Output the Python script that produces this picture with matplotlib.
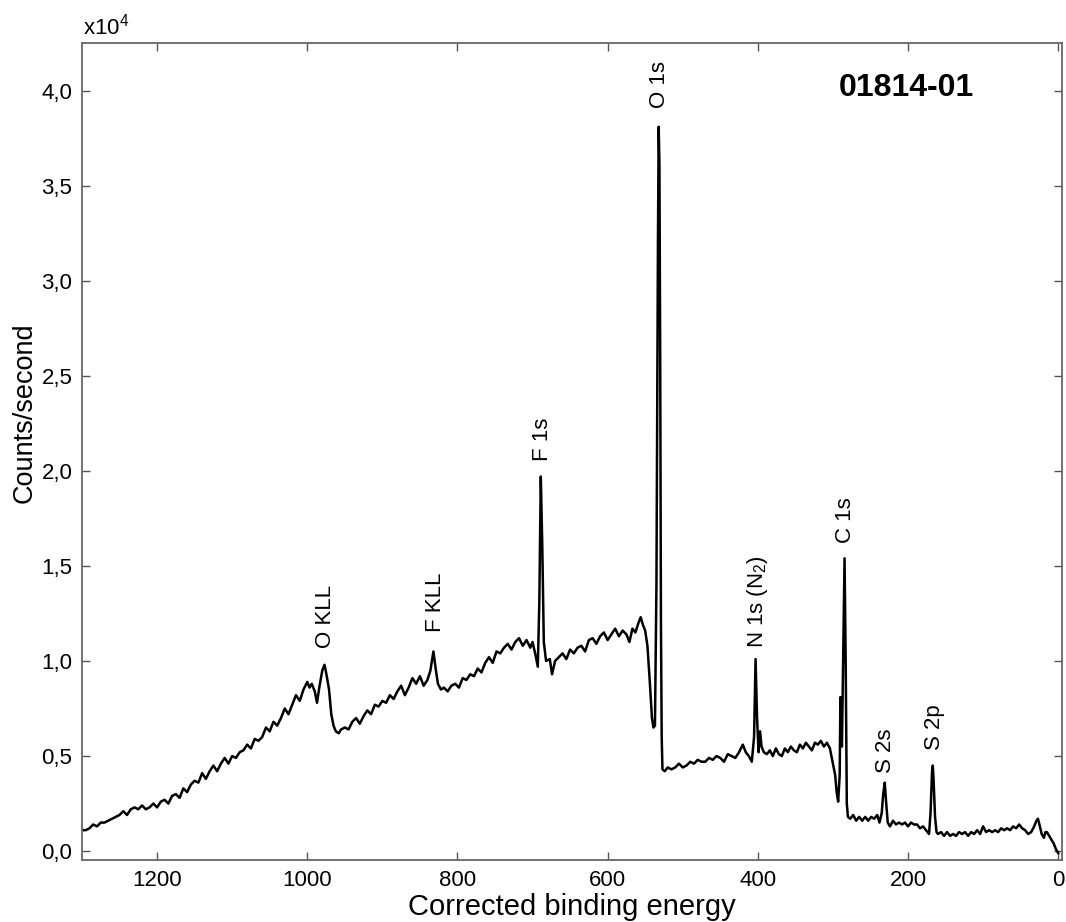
import matplotlib
matplotlib.use("Agg")
import matplotlib.pyplot as plt
from matplotlib.ticker import MultipleLocator, FuncFormatter

plt.rcParams['font.family'] = ['Liberation Sans', 'DejaVu Sans']
plt.rcParams['mathtext.fontset'] = 'custom'
plt.rcParams['mathtext.rm'] = 'Liberation Sans'
plt.rcParams['mathtext.it'] = 'Liberation Sans:italic'

# survey spectrum (counts in units of 1e4)
energy = [1300, 1295, 1290, 1285, 1280, 1275, 1270, 1265, 1260, 1255, 1250, 1245, 1240, 1235,
          1230, 1225, 1220, 1215, 1210, 1205, 1200, 1195, 1190, 1185, 1180, 1175, 1170, 1165,
          1160, 1155, 1150, 1145, 1140, 1135, 1130, 1125, 1120, 1115, 1110, 1105, 1100, 1095,
          1090, 1085, 1080, 1075, 1070, 1065, 1060, 1055, 1050, 1045, 1040, 1035, 1030, 1025,
          1020, 1015, 1010, 1005, 1000, 997, 994, 990, 987, 984, 980, 977, 974, 971, 968, 965,
          962, 958, 955, 950, 945, 940, 935, 930, 925, 920, 915, 910, 905, 900, 895, 890, 885,
          880, 875, 870, 865, 860, 855, 850, 845, 840, 836, 832, 829, 826, 822, 818, 813, 808,
          803, 798, 793, 788, 783, 778, 773, 768, 763, 758, 753, 748, 743, 738, 733, 728, 723,
          718, 713, 708, 703, 700, 696, 693, 691, 689, 687, 685, 682, 677, 674, 670, 665, 660,
          655, 650, 645, 640, 635, 630, 625, 620, 615, 610, 605, 600, 595, 590, 585, 580, 575,
          571, 567, 563, 559, 556, 553, 550, 547, 544, 541, 539, 537, 535, 533, 532, 531, 530,
          529, 528, 527, 524, 520, 515, 510, 505, 500, 495, 490, 485, 480, 475, 470, 465, 460,
          455, 450, 445, 440, 435, 430, 425, 420, 416, 412, 408, 405, 403, 401, 399, 397, 395,
          392, 388, 384, 380, 376, 372, 368, 364, 360, 356, 352, 348, 344, 340, 336, 332, 328,
          324, 320, 316, 312, 308, 304, 300, 297, 295, 293, 291, 290, 289, 288, 286, 284.5, 283,
          281.5, 280, 277, 273, 269, 265, 261, 257, 253, 249, 245, 241, 238, 235, 233, 231, 229,
          227, 224, 220, 216, 212, 208, 204, 200, 196, 192, 188, 184, 180, 176, 172, 170, 168,
          167, 166, 164, 162, 160, 156, 152, 148, 144, 140, 136, 132, 128, 124, 120, 116, 112,
          108, 104, 100, 96, 92, 88, 84, 80, 76, 72, 68, 64, 60, 56, 52, 48, 44, 40, 36, 32, 29,
          27, 25, 22, 19, 17, 15, 12, 9, 6, 3, 0]
counts = [0.11, 0.11, 0.12, 0.14, 0.13, 0.15, 0.15, 0.16, 0.17, 0.18, 0.19, 0.21, 0.19, 0.22,
          0.23, 0.22, 0.24, 0.22, 0.23, 0.25, 0.23, 0.26, 0.27, 0.25, 0.29, 0.30, 0.28, 0.33,
          0.31, 0.35, 0.37, 0.36, 0.41, 0.38, 0.42, 0.45, 0.42, 0.46, 0.49, 0.46, 0.50, 0.49,
          0.52, 0.53, 0.56, 0.54, 0.59, 0.58, 0.60, 0.65, 0.63, 0.68, 0.66, 0.70, 0.75, 0.72,
          0.77, 0.82, 0.79, 0.85, 0.89, 0.86, 0.88, 0.84, 0.78, 0.86, 0.95, 0.98, 0.92, 0.85,
          0.72, 0.66, 0.63, 0.62, 0.64, 0.65, 0.64, 0.68, 0.70, 0.67, 0.71, 0.74, 0.72, 0.77,
          0.76, 0.79, 0.78, 0.82, 0.80, 0.84, 0.87, 0.82, 0.86, 0.91, 0.88, 0.92, 0.87, 0.90,
          0.95, 1.05, 0.96, 0.88, 0.85, 0.86, 0.84, 0.87, 0.88, 0.86, 0.91, 0.90, 0.93, 0.92,
          0.96, 0.94, 0.99, 1.02, 0.99, 1.05, 1.04, 1.07, 1.09, 1.06, 1.10, 1.12, 1.08, 1.11,
          1.07, 1.10, 1.03, 0.97, 1.30, 1.97, 1.60, 1.10, 1.00, 1.01, 0.93, 1.00, 1.02, 1.04,
          1.01, 1.06, 1.04, 1.07, 1.08, 1.05, 1.11, 1.12, 1.09, 1.13, 1.15, 1.11, 1.14, 1.17,
          1.13, 1.16, 1.14, 1.10, 1.17, 1.15, 1.20, 1.23, 1.19, 1.16, 1.08, 0.90, 0.70, 0.65,
          0.66, 1.40, 3.20, 3.81, 3.60, 2.60, 1.20, 0.60, 0.43, 0.42, 0.44, 0.43, 0.44, 0.46,
          0.44, 0.45, 0.47, 0.46, 0.48, 0.47, 0.47, 0.49, 0.48, 0.50, 0.49, 0.47, 0.51, 0.50,
          0.49, 0.52, 0.56, 0.52, 0.50, 0.47, 0.60, 1.01, 0.70, 0.52, 0.63, 0.55, 0.52, 0.51,
          0.53, 0.50, 0.54, 0.51, 0.50, 0.54, 0.52, 0.55, 0.53, 0.52, 0.56, 0.54, 0.57, 0.55,
          0.53, 0.57, 0.56, 0.58, 0.55, 0.57, 0.54, 0.46, 0.40, 0.31, 0.26, 0.40, 0.81, 0.60,
          0.55, 1.10, 1.54, 1.00, 0.25, 0.18, 0.17, 0.19, 0.16, 0.18, 0.16, 0.18, 0.16, 0.18,
          0.17, 0.19, 0.15, 0.20, 0.30, 0.36, 0.25, 0.15, 0.13, 0.16, 0.14, 0.15, 0.14, 0.15,
          0.13, 0.15, 0.14, 0.14, 0.12, 0.13, 0.11, 0.09, 0.20, 0.42, 0.45, 0.38, 0.18, 0.10,
          0.09, 0.10, 0.08, 0.10, 0.08, 0.09, 0.08, 0.10, 0.09, 0.10, 0.08, 0.10, 0.09, 0.11,
          0.09, 0.13, 0.10, 0.11, 0.10, 0.11, 0.10, 0.12, 0.11, 0.12, 0.11, 0.13, 0.12, 0.14,
          0.12, 0.11, 0.09, 0.10, 0.13, 0.16, 0.17, 0.14, 0.09, 0.07, 0.10, 0.10, 0.08, 0.06,
          0.04, 0.01, -0.01]

# peak labels: text, energy, bottom of the text (1e4 counts)
peak_names = ['O KLL', 'F KLL', 'F 1s', 'O 1s', r'N 1s (N$_2$)', 'C 1s', 'S 2s', 'S 2p']
peak_pos = [976, 829, 687, 531, 400, 283, 230, 165]
peak_text_y = [1.07, 1.15, 2.05, 3.91, 1.07, 1.62, 0.41, 0.53]

fig = plt.figure(figsize=(10.66, 9.22), dpi=100)
ax = fig.add_axes([0.0769, 0.0672, 0.9193, 0.8861])

ax.plot(energy, counts, color='black', lw=1.8)

for name, e, ty in zip(peak_names, peak_pos, peak_text_y):
    ax.text(e, ty, name, rotation=90, ha='center', va='bottom', fontsize=16)

ax.text(0.841, 0.9455, '01814-01', transform=ax.transAxes, ha='center', va='center',
        fontsize=23, fontweight='bold')

ax.set_xlim(1300, -5)
ax.set_ylim(-0.047, 4.25)
ax.xaxis.set_major_locator(MultipleLocator(200))
ax.yaxis.set_major_locator(MultipleLocator(0.5))
ax.yaxis.set_major_formatter(FuncFormatter(lambda v, p: f'{v:.1f}'.replace('.', ',')))

ax.tick_params(direction='in', top=True, right=True, length=6, width=1,
               color='#555555', labelsize=16, pad=7)
for sp in ax.spines.values():
    sp.set_color('#666666')
    sp.set_linewidth(1.3)

ax.set_xlabel('Corrected binding energy', fontsize=21)
ax.xaxis.set_label_coords(0.5, -0.040)
ax.set_ylabel('Counts/second', fontsize=19.5, va='center')
ax.yaxis.set_label_coords(-0.059, 0.548)

fig.text(83 / 1066, 1 - 35 / 922, r'x10$^{4}$', fontsize=16, ha='left', va='baseline')

fig.savefig('out.png', dpi=100)
